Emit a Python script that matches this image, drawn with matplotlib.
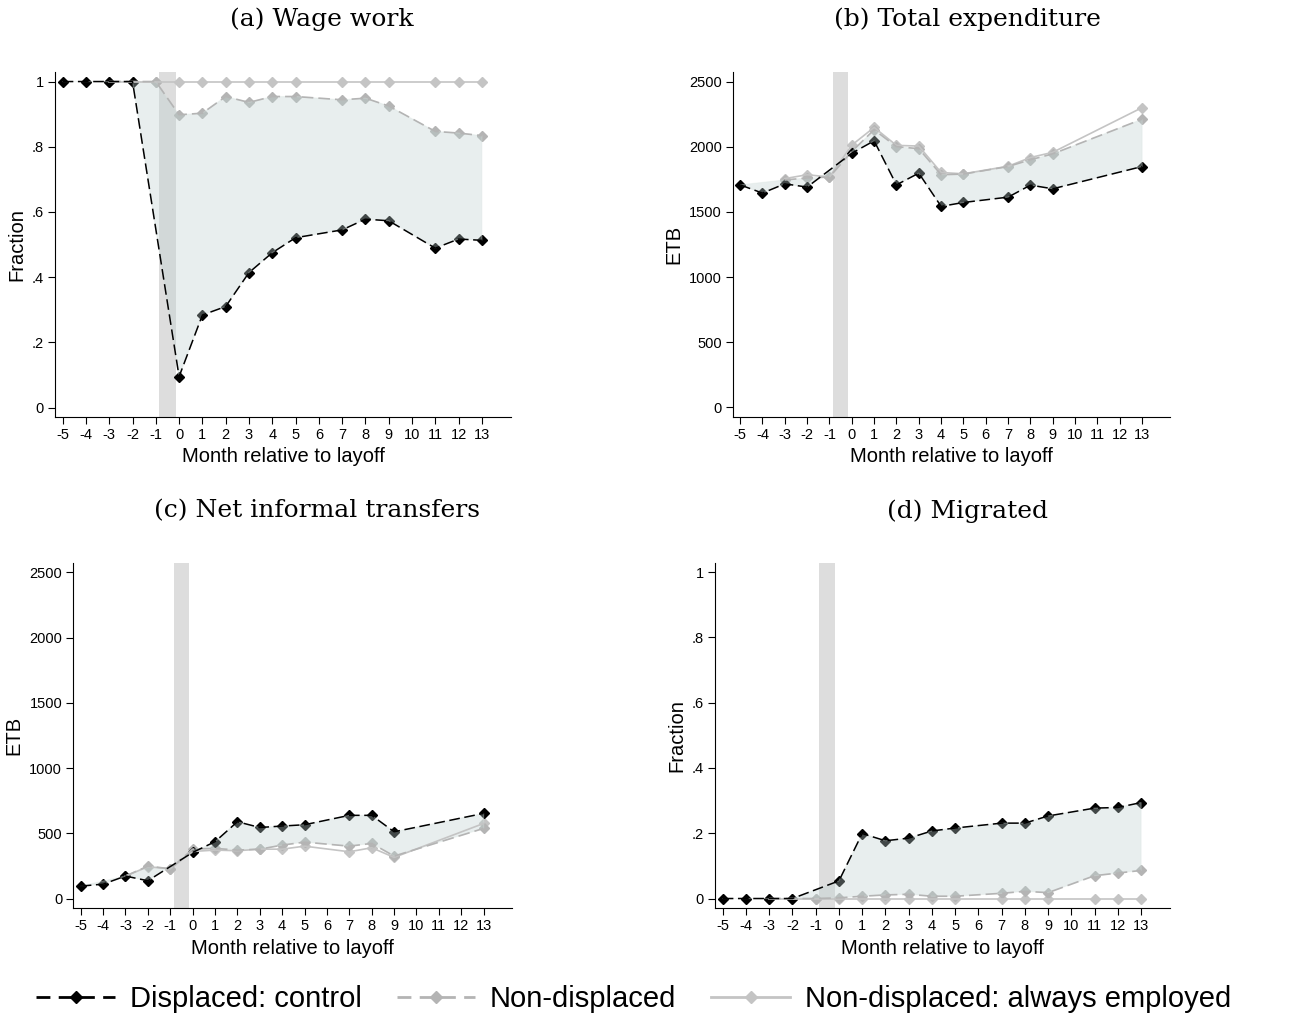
import numpy as np
import matplotlib.pyplot as plt
from matplotlib.lines import Line2D

plt.rcParams['font.family'] = ['Liberation Sans', 'DejaVu Sans']
plt.rcParams['axes.unicode_minus'] = False

# months with data for each series
m_disp = [-5, -4, -3, -2, 0, 1, 2, 3, 4, 5, 7, 8, 9, 11, 12, 13]
m_non = [-3, -2, -1, 0, 1, 2, 3, 4, 5, 7, 8, 9, 11, 12, 13]
m_disp_short = [-5, -4, -3, -2, 0, 1, 2, 3, 4, 5, 7, 8, 9, 13]
m_non_short = [-3, -2, -1, 0, 1, 2, 3, 4, 5, 7, 8, 9, 13]

# (a) Wage work
wage_disp = [1, 1, 1, 1, 0.095, 0.284, 0.310, 0.414, 0.475, 0.521, 0.545, 0.578, 0.573, 0.489, 0.517, 0.513]
wage_non = [1, 1, 1, 0.898, 0.903, 0.954, 0.936, 0.954, 0.954, 0.944, 0.949, 0.925, 0.847, 0.842, 0.834]
wage_emp = [1, 1, 1, 1, 1, 1, 1, 1, 1, 1, 1, 1, 1, 1, 1]

# (b) Total expenditure
exp_disp = [1707, 1644, 1715, 1690, 1950, 2045, 1707, 1797, 1542, 1572, 1613, 1705, 1677, 1848]
exp_non = [1745, 1760, 1767, 1963, 2130, 2000, 1985, 1785, 1790, 1848, 1900, 1945, 2211]
exp_emp = [1755, 1785, 1767, 2012, 2148, 2010, 2005, 1802, 1792, 1850, 1917, 1957, 2300]

# (c) Net informal transfers
tr_disp = [97, 112, 174, 138, 355, 437, 590, 546, 557, 567, 639, 639, 513, 654]
tr_non = [174, 250, 230, 380, 386, 373, 380, 411, 434, 403, 424, 327, 539]
tr_emp = [174, 245, 230, 362, 373, 368, 380, 380, 403, 360, 391, 317, 577]

# (d) Migrated
mig_disp = [0, 0, 0, 0, 0.054, 0.199, 0.177, 0.185, 0.207, 0.216, 0.231, 0.231, 0.253, 0.277, 0.279, 0.294]
mig_non = [0, 0, 0, 0.002, 0.007, 0.011, 0.013, 0.007, 0.007, 0.016, 0.022, 0.018, 0.070, 0.078, 0.086]
mig_emp = [0, 0, 0, 0, 0, 0, 0, 0, 0, 0, 0, 0, 0, 0, 0]

frac_ticks = [0, .2, .4, .6, .8, 1]
frac_labels = ["0", ".2", ".4", ".6", ".8", "1"]
etb_ticks = [0, 500, 1000, 1500, 2000, 2500]
etb_labels = ["0", "500", "1000", "1500", "2000", "2500"]

panels = [
    ("(a) Wage work", "Fraction", m_disp, wage_disp, m_non, wage_non, wage_emp,
     frac_ticks, frac_labels, (-0.028, 1.03)),
    ("(b) Total expenditure", "ETB", m_disp_short, exp_disp, m_non_short, exp_non, exp_emp,
     etb_ticks, etb_labels, (-72, 2575)),
    ("(c) Net informal transfers", "ETB", m_disp_short, tr_disp, m_non_short, tr_non, tr_emp,
     etb_ticks, etb_labels, (-73, 2569)),
    ("(d) Migrated", "Fraction", m_disp, mig_disp, m_non, mig_non, mig_emp,
     frac_ticks, frac_labels, (-0.03, 1.027)),
]

# axes rectangles [left, bottom, width, height]
rects = [
    [0.0425, 0.5958, 0.3527, 0.3346],
    [0.5667, 0.5958, 0.3382, 0.3346],
    [0.0567, 0.1190, 0.3390, 0.3346],
    [0.5530, 0.1190, 0.3520, 0.3346],
]
title_x = [0.249, 0.748, 0.245, 0.748]
title_y = [0.993, 0.993, 0.516, 0.516]

black = 'black'
gray_d = '#b4b4b4'
gray_s = '#c4c4c4'
fill_c = (0.75, 0.82, 0.81)
dash = (0, (7, 3))

fig = plt.figure(figsize=(12.93, 10.31), dpi=100)

for i, (title, ylab, xd, yd, xn, yn, ye, yt, ytl, ylim) in enumerate(panels):
    ax = fig.add_axes(rects[i])
    ax.axvspan(-0.85, -0.15, color='#dddddd', lw=0, zorder=0)
    # markers under the shaded area, lines on top
    ax.plot(xn, ye, ls='none', marker='D', ms=5.5, color=gray_s, zorder=2)
    ax.plot(xn, yn, ls='none', marker='D', ms=5.5, color=gray_d, zorder=2)
    ax.plot(xd, yd, ls='none', marker='D', ms=5.5, color=black, zorder=2)
    px = list(xd) + list(xn)[::-1]
    py = list(yd) + list(yn)[::-1]
    ax.fill(px, py, color=fill_c, alpha=0.35, lw=0.8, ec=(0.85, 0.89, 0.88), zorder=3)
    ax.plot(xn, ye, color=gray_s, lw=1.2, ls='-', zorder=4)
    ax.plot(xn, yn, color=gray_d, lw=1.2, ls=dash, zorder=4)
    ax.plot(xd, yd, color=black, lw=1.1, ls=dash, zorder=5)

    ax.set_xlim(-5.33, 14.25)
    ax.set_ylim(*ylim)
    ax.set_xticks(range(-5, 14))
    ax.set_yticks(yt)
    ax.set_yticklabels(ytl)
    ax.spines['top'].set_visible(False)
    ax.spines['right'].set_visible(False)
    ax.tick_params(direction='out', length=5, width=0.8, labelsize=10.5, pad=3)
    ax.set_xlabel("Month relative to layoff", fontsize=14.5, labelpad=4)
    ax.set_ylabel(ylab, fontsize=14.5)
    fig.text(title_x[i], title_y[i], title, ha='center', va='top',
             fontsize=18, family=['DejaVu Serif'])

handles = [
    Line2D([], [], color=black, ls=(0, (5, 3)), marker='D', ms=6, lw=2),
    Line2D([], [], color=gray_d, ls=(0, (5, 3)), marker='D', ms=6, lw=2),
    Line2D([], [], color=gray_s, ls='-', marker='D', ms=6, lw=2),
]
labels = ["Displaced: control", "Non-displaced", "Non-displaced: always employed"]
fig.legend(handles, labels, loc='lower center', bbox_to_anchor=(0.49, -0.008), ncol=3,
           frameon=False, fontsize=21, handlelength=2.7, columnspacing=1.2, handletextpad=0.5)

fig.savefig("out.png", dpi=100)
